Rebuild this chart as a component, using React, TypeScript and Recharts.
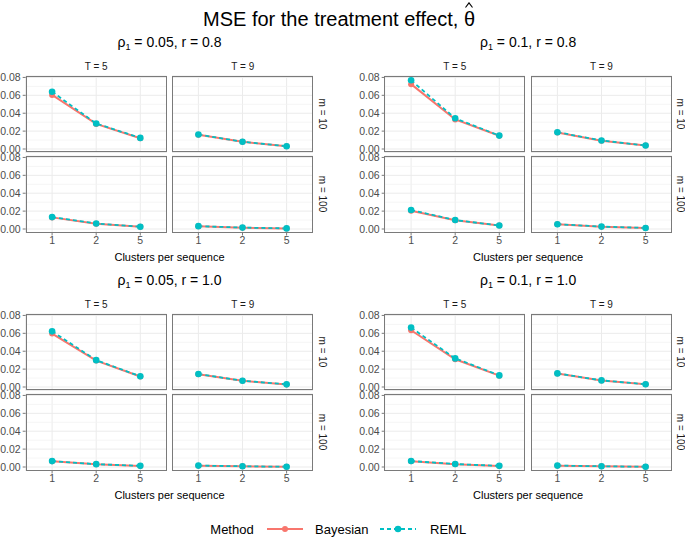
import React from 'react';
import { LineChart, Line, XAxis, YAxis, CartesianGrid, ReferenceLine } from 'recharts';

// x categories and axis ticks
const CATS = ['1', '2', '5'];
const TICKS_Y = [0, 0.02, 0.04, 0.06, 0.08];
const MINOR_Y = [0.01, 0.03, 0.05, 0.07];
const COLUMNS = ['T = 5', 'T = 9'];
const ROWS = ['m = 10', 'm = 100'];
const RHO = ['0.05', '0.1', '0.05', '0.1'];
const R = ['0.8', '0.8', '1.0', '1.0'];

// panel order inside each block: [T5 m10, T9 m10, T5 m100, T9 m100]
const bayes_rho005_r08 = [[0.0605, 0.028, 0.012], [0.016, 0.008, 0.003], [0.013, 0.006, 0.0024], [0.0031, 0.0015, 0.0006]];
const reml_rho005_r08 = [[0.064, 0.0285, 0.0124], [0.0162, 0.0081, 0.0031], [0.0133, 0.0062, 0.0025], [0.0032, 0.0016, 0.0007]];
const bayes_rho01_r08 = [[0.0725, 0.033, 0.0148], [0.0185, 0.0093, 0.0038], [0.0205, 0.0098, 0.0038], [0.0052, 0.0026, 0.0011]];
const reml_rho01_r08 = [[0.0768, 0.0343, 0.015], [0.0188, 0.0095, 0.0039], [0.0212, 0.01, 0.0039], [0.0054, 0.0027, 0.0012]];
const bayes_rho005_r10 = [[0.0597, 0.0295, 0.0117], [0.0142, 0.0069, 0.0029], [0.0064, 0.0031, 0.0012], [0.0015, 0.0008, 0.0002]];
const reml_rho005_r10 = [[0.0622, 0.03, 0.012], [0.0145, 0.007, 0.003], [0.0066, 0.0032, 0.0013], [0.0016, 0.0008, 0.0003]];
const bayes_rho01_r10 = [[0.0634, 0.031, 0.0127], [0.015, 0.0072, 0.003], [0.0065, 0.0032, 0.0012], [0.0015, 0.0008, 0.0002]];
const reml_rho01_r10 = [[0.0664, 0.032, 0.013], [0.0152, 0.0074, 0.0031], [0.0067, 0.0033, 0.0013], [0.0016, 0.0008, 0.0003]];

const BAYES = [bayes_rho005_r08, bayes_rho01_r08, bayes_rho005_r10, bayes_rho01_r10];
const REML = [reml_rho005_r08, reml_rho01_r08, reml_rho005_r10, reml_rho01_r10];

const FONT = '"Liberation Sans", Arial, Helvetica, sans-serif';
const RED = '#F8766D';
const TEAL = '#00BFC4';
const BORDER = '#7a7a7a';

// layout
const BLOCK_X = [25.7, 384.3, 25.7, 384.3];
const BLOCK_Y = [75.5, 75.5, 313.5, 313.5];
const PANEL_W = 141;
const PANEL_H = 76.5;
const COL_STEP = 146.6;
const ROW_STEP = 80.5;
const YW = 25.7;
const XH = 20;
const PAD = 6; // room above/below the plot for edge tick labels

function Panel({ x, y, left, bottom, bayes, reml }: any) {
  const data = CATS.map((c, i) => ({ c, bayes: bayes[i], reml: reml[i] }));
  const yw = left ? YW : 0;
  const xh = bottom ? XH : PAD;
  const tick = { fontSize: 10.5, fill: '#4D4D4D', fontFamily: FONT };
  return (
    <>
      <div style={{ position: 'absolute', left: x - yw, top: y - PAD }}>
        <LineChart
          width={PANEL_W + yw}
          height={PANEL_H + PAD + xh}
          data={data}
          margin={{ top: PAD, right: 0, bottom: bottom ? 0 : PAD, left: 0 }}
        >
          <CartesianGrid stroke="#EBEBEB" strokeWidth={1} />
          {MINOR_Y.map((v) => (
            <ReferenceLine key={v} y={v} stroke="#F3F3F3" strokeWidth={0.8} />
          ))}
          <XAxis
            dataKey="c"
            type="category"
            hide={!bottom}
            height={XH}
            interval={0}
            padding={{ left: 26.4, right: 26.4 }}
            axisLine={false}
            tickLine={{ stroke: BORDER }}
            tickSize={3}
            tickMargin={1}
            tick={tick}
          />
          <YAxis
            type="number"
            domain={[-0.0039, 0.0816]}
            ticks={TICKS_Y}
            interval={0}
            hide={!left}
            width={YW}
            axisLine={false}
            tickLine={{ stroke: BORDER }}
            tickSize={3}
            tickMargin={2}
            tick={tick}
            tickFormatter={(v: number) => v.toFixed(2)}
          />
          <Line
            type="linear"
            dataKey="bayes"
            stroke={RED}
            strokeWidth={2}
            dot={{ r: 3, fill: RED, stroke: RED, strokeWidth: 0 }}
            isAnimationActive={false}
          />
          <Line
            type="linear"
            dataKey="reml"
            stroke={TEAL}
            strokeWidth={1.8}
            strokeDasharray="4 3"
            dot={{ r: 3.3, fill: TEAL, stroke: TEAL, strokeWidth: 0, strokeDasharray: '' }}
            isAnimationActive={false}
          />
        </LineChart>
      </div>
      <div
        style={{
          position: 'absolute',
          left: x,
          top: y,
          width: PANEL_W,
          height: PANEL_H,
          border: `1px solid ${BORDER}`,
          boxSizing: 'border-box',
          pointerEvents: 'none',
        }}
      />
    </>
  );
}

const centered = (x: number, y: number, extra: React.CSSProperties = {}): React.CSSProperties => ({
  position: 'absolute',
  left: x,
  top: y,
  transform: 'translate(-50%, -50%)',
  whiteSpace: 'nowrap',
  lineHeight: 1,
  fontFamily: FONT,
  ...extra,
});

function Block({ b }: { b: number }) {
  const bx = BLOCK_X[b];
  const by = BLOCK_Y[b];
  const midX = bx + (COL_STEP + PANEL_W) / 2;
  const lowBottom = by + ROW_STEP + PANEL_H;
  return (
    <>
      <div style={centered(midX, by - 33, { fontSize: 14, color: '#000' })}>
        ρ<sub style={{ fontSize: 9, verticalAlign: -3 }}>1</sub> = {RHO[b]}, r = {R[b]}
      </div>
      {COLUMNS.map((c, ci) => (
        <div key={c} style={centered(bx + ci * COL_STEP + PANEL_W / 2, by - 9, { fontSize: 10, color: '#1A1A1A' })}>
          {c}
        </div>
      ))}
      {ROWS.map((r, ri) => (
        <div
          key={r}
          style={centered(bx + COL_STEP + PANEL_W + 8.5, by + ri * ROW_STEP + PANEL_H / 2, {
            fontSize: 10,
            color: '#1A1A1A',
            transform: 'translate(-50%, -50%) rotate(90deg)',
          })}
        >
          {r}
        </div>
      ))}
      {[0, 1, 2, 3].map((p) => {
        const col = p % 2;
        const row = Math.floor(p / 2);
        return (
          <Panel
            key={p}
            x={bx + col * COL_STEP}
            y={by + row * ROW_STEP}
            left={col === 0}
            bottom={row === 1}
            bayes={BAYES[b][p]}
            reml={REML[b][p]}
          />
        );
      })}
      <div style={centered(midX, lowBottom + 24.5, { fontSize: 11, color: '#000' })}>Clusters per sequence</div>
    </>
  );
}

export default function App() {
  return (
    <div style={{ position: 'absolute', left: 0, top: 0, width: 685, height: 537, background: '#fff', overflow: 'hidden' }}>
      <div style={centered(339, 19, { fontSize: 20, color: '#000' })}>
        MSE for the treatment effect,{' '}
        <span style={{ position: 'relative', display: 'inline-block' }}>
          θ
          <svg style={{ position: 'absolute', left: '50%', top: -7, marginLeft: -4 }} width={8} height={6}>
            <polyline points="0.5,5.5 4,0.8 7.5,5.5" fill="none" stroke="#000" strokeWidth={1.1} />
          </svg>
        </span>
      </div>
      {[0, 1, 2, 3].map((b) => (
        <Block key={b} b={b} />
      ))}
      {/* legend */}
      <div style={centered(232, 529, { fontSize: 13, color: '#000' })}>Method</div>
      <svg style={{ position: 'absolute', left: 265, top: 521 }} width={40} height={16}>
        <line x1={2} y1={8} x2={38} y2={8} stroke={RED} strokeWidth={2} />
        <circle cx={20} cy={8} r={3} fill={RED} />
      </svg>
      <div style={{ position: 'absolute', left: 315, top: 529, transform: 'translateY(-50%)', fontFamily: FONT, fontSize: 13, lineHeight: 1 }}>
        Bayesian
      </div>
      <svg style={{ position: 'absolute', left: 378, top: 521 }} width={40} height={16}>
        <line x1={2} y1={8} x2={38} y2={8} stroke={TEAL} strokeWidth={1.8} strokeDasharray="4 3" />
        <circle cx={20} cy={8} r={3.3} fill={TEAL} />
      </svg>
      <div style={{ position: 'absolute', left: 430, top: 529, transform: 'translateY(-50%)', fontFamily: FONT, fontSize: 13, lineHeight: 1 }}>
        REML
      </div>
    </div>
  );
}
